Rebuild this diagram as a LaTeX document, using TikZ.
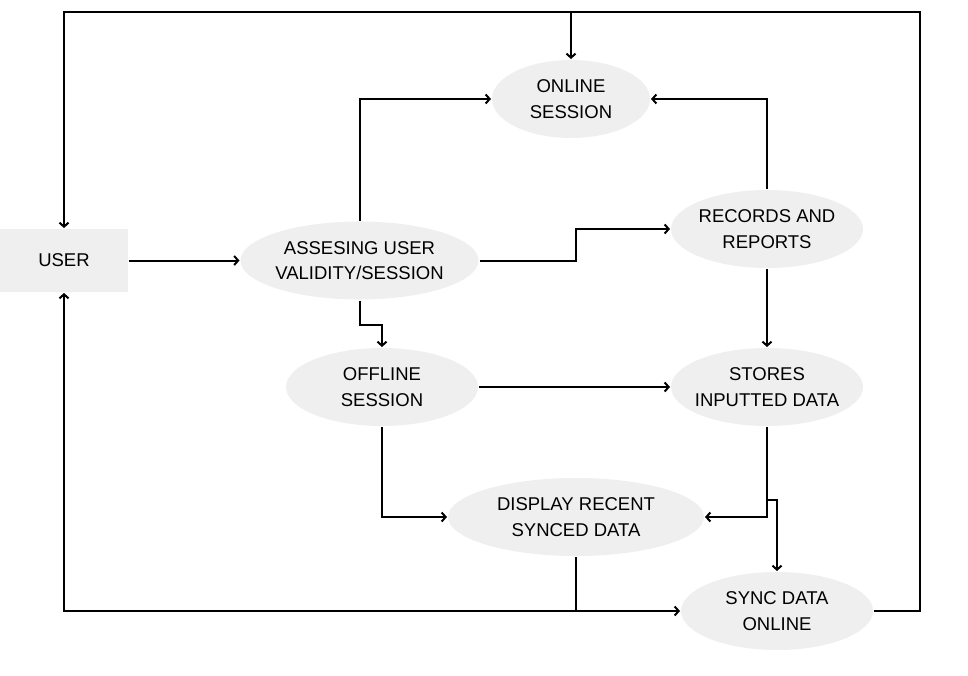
\documentclass[tikz,border=0pt]{standalone}
\usepackage{fontspec}
\setmainfont{Liberation Sans}
\usepackage{tikz}
\usetikzlibrary{positioning,shapes.geometric,arrows.meta}
\definecolor{bubblegray}{HTML}{EFEFEF}

\begin{document}
\begin{tikzpicture}[x=1pt,y=-1pt,on grid,
	>={Straight Barb[length=4pt,width=9pt]},
	line width=2pt,
	bubble/.style={ellipse,fill=bubblegray,minimum height=78pt,inner xsep=-8pt,inner ysep=0pt,
		align=center,font=\fontsize{18.5}{25.5}\selectfont}]
	\useasboundingbox (0,0) rectangle (968,675);

	\node[fill=bubblegray,minimum width=128pt,minimum height=63pt,font=\fontsize{18.5}{25.5}\selectfont] (user) at (64,260.5) {USER};
	\node[bubble,minimum width=238pt,right=295.5pt of user] (assess) {ASSESING USER\\VALIDITY/SESSION};
	\node[bubble,minimum width=158pt,above right=161.5pt and 211.5pt of assess] (online) {ONLINE\\SESSION};
	\node[bubble,minimum width=192pt,above right=31.5pt and 407.5pt of assess] (records) {RECORDS AND\\REPORTS};
	\node[bubble,minimum width=192pt,below right=126.5pt and 22.5pt of assess] (offline) {OFFLINE\\SESSION};
	\node[bubble,minimum width=192pt,below=158pt of records] (stores) {STORES\\INPUTTED DATA};
	\node[bubble,minimum width=256pt,below right=130pt and 194pt of offline] (display) {DISPLAY RECENT\\SYNCED DATA};
	\node[bubble,minimum width=192pt,below right=94pt and 201pt of display] (sync) {SYNC DATA\\ONLINE};
	\coordinate (topright) at (920,12);

	\draw[->] (user.east) -- (assess.west);
	\draw[->] (assess.north) |- (online.west);
	\draw[->] (assess.east) -- ++(96,0) |- (records.west);
	\draw[->] (assess.south) -- ++(0,24) -| (offline.north);
	\draw[->] (records.north) |- (online.east);
	\draw[->] (records.south) -- (stores.north);
	\draw[->] (offline.east) -- (stores.west);
	\draw[->] (offline.south) |- (display.west);
	\draw[->] (stores.south) |- (display.east);
	\draw[->] (stores.south) -- ++(0,73) -| (sync.north);
	\draw[->] (sync.east) -| (topright) -| (user.north);
	\draw[->] (online.north |- topright) -- (online.north);
	\draw[->] (display.south) |- (sync.west);
	\draw[->] (display.south |- sync.west) -| (user.south);
\end{tikzpicture}
\end{document}
